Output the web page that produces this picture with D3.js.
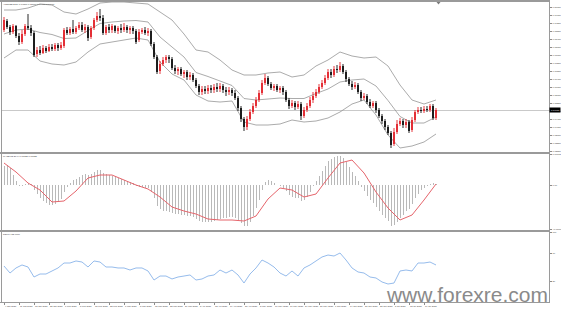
<!DOCTYPE html>
<html>
<head>
<meta charset="utf-8">
<script src="https://cdn.jsdelivr.net/npm/d3@7"></script>
<style>
  html, body { margin: 0; padding: 0; background: #fff; }
  svg { display: block; font-family: "Liberation Sans", Arial, sans-serif; }
  .axis text { fill: #444; font-size: 2.3px; }
  .axis line { stroke: #8c8c8c; shape-rendering: crispEdges; }
  .title { fill: #333; font-size: 2.3px; }
  .watermark { fill: #8a8a8a; font-size: 21px; }
</style>
</head>
<body>
<div id="chart"></div>
<script>
// chart size
const width = 561;
const height = 309;
const plotRight = 549.5;

// ---- data (daily candles) ----
const open = [0.7890,0.7935,0.7905,0.7880,0.7910,0.7860,0.7830,0.7870,0.7910,0.7900,
  0.7875,0.7770,0.7790,0.7775,0.7800,0.7785,0.7805,0.7795,0.7815,0.7800,
  0.7810,0.7890,0.7875,0.7895,0.7880,0.7900,0.7915,0.7890,0.7905,0.7855,
  0.7900,0.7940,0.7960,0.7950,0.7875,0.7905,0.7890,0.7910,0.7885,0.7900,
  0.7890,0.7905,0.7890,0.7900,0.7885,0.7840,0.7880,0.7890,0.7875,0.7885,
  0.7820,0.7755,0.7685,0.7720,0.7740,0.7755,0.7745,0.7700,0.7685,0.7695,
  0.7670,0.7680,0.7655,0.7665,0.7640,0.7610,0.7580,0.7595,0.7585,0.7600,
  0.7590,0.7605,0.7595,0.7610,0.7590,0.7580,0.7590,0.7575,0.7550,0.7500,
  0.7445,0.7405,0.7445,0.7480,0.7510,0.7540,0.7575,0.7625,0.7650,0.7620,
  0.7600,0.7610,0.7590,0.7600,0.7580,0.7540,0.7510,0.7525,0.7505,0.7520,
  0.7460,0.7490,0.7510,0.7540,0.7560,0.7580,0.7605,0.7625,0.7650,0.7680,
  0.7665,0.7695,0.7690,0.7710,0.7680,0.7645,0.7620,0.7605,0.7615,0.7580,
  0.7550,0.7560,0.7530,0.7510,0.7525,0.7490,0.7460,0.7435,0.7405,0.7375,
  0.7320,0.7380,0.7420,0.7435,0.7415,0.7430,0.7390,0.7440,0.7480,0.7490,
  0.7485,0.7495,0.7490,0.7510,0.7450];
const high = [0.7955,0.7945,0.7915,0.7920,0.7915,0.7875,0.7890,0.7920,0.7970,0.7915,
  0.7885,0.7805,0.7810,0.7815,0.7810,0.7820,0.7820,0.7825,0.7825,0.7830,
  0.7900,0.7905,0.7905,0.7940,0.7910,0.7930,0.7930,0.7920,0.7915,0.7910,
  0.7950,0.7980,0.7995,0.7965,0.7915,0.7920,0.7920,0.7915,0.7910,0.7920,
  0.7925,0.7915,0.7910,0.7910,0.7895,0.7895,0.7900,0.7905,0.7900,0.7895,
  0.7830,0.7765,0.7735,0.7755,0.7765,0.7765,0.7755,0.7715,0.7705,0.7705,
  0.7690,0.7690,0.7680,0.7675,0.7650,0.7620,0.7610,0.7610,0.7615,0.7615,
  0.7620,0.7625,0.7625,0.7620,0.7605,0.7605,0.7600,0.7590,0.7560,0.7510,
  0.7455,0.7460,0.7495,0.7525,0.7555,0.7590,0.7640,0.7670,0.7660,0.7630,
  0.7620,0.7620,0.7610,0.7610,0.7590,0.7550,0.7540,0.7535,0.7535,0.7530,
  0.7505,0.7525,0.7555,0.7580,0.7595,0.7620,0.7640,0.7665,0.7695,0.7695,
  0.7710,0.7715,0.7730,0.7720,0.7690,0.7655,0.7635,0.7630,0.7625,0.7590,
  0.7575,0.7570,0.7545,0.7535,0.7535,0.7500,0.7470,0.7445,0.7415,0.7385,
  0.7400,0.7440,0.7450,0.7445,0.7445,0.7440,0.7455,0.7490,0.7505,0.7505,
  0.7510,0.7510,0.7520,0.7520,0.7500];
const low = [0.7880,0.7895,0.7865,0.7870,0.7850,0.7815,0.7820,0.7860,0.7890,0.7860,
  0.7755,0.7755,0.7765,0.7770,0.7775,0.7780,0.7785,0.7785,0.7785,0.7790,
  0.7800,0.7865,0.7865,0.7870,0.7870,0.7890,0.7880,0.7875,0.7835,0.7845,
  0.7890,0.7930,0.7935,0.7865,0.7865,0.7875,0.7875,0.7875,0.7870,0.7875,
  0.7880,0.7875,0.7870,0.7870,0.7820,0.7830,0.7870,0.7865,0.7860,0.7810,
  0.7745,0.7670,0.7670,0.7710,0.7725,0.7725,0.7690,0.7670,0.7665,0.7660,
  0.7650,0.7640,0.7640,0.7630,0.7600,0.7565,0.7565,0.7570,0.7570,0.7575,
  0.7575,0.7580,0.7580,0.7575,0.7560,0.7565,0.7560,0.7540,0.7485,0.7430,
  0.7385,0.7390,0.7435,0.7470,0.7500,0.7530,0.7565,0.7615,0.7610,0.7590,
  0.7585,0.7580,0.7575,0.7565,0.7530,0.7495,0.7500,0.7490,0.7495,0.7440,
  0.7450,0.7480,0.7500,0.7525,0.7550,0.7570,0.7595,0.7615,0.7640,0.7650,
  0.7655,0.7675,0.7680,0.7670,0.7630,0.7610,0.7590,0.7595,0.7570,0.7535,
  0.7540,0.7520,0.7500,0.7500,0.7475,0.7450,0.7420,0.7390,0.7365,0.7300,
  0.7310,0.7370,0.7410,0.7400,0.7400,0.7375,0.7380,0.7430,0.7470,0.7475,
  0.7475,0.7480,0.7480,0.7440,0.7440];
const close = [0.7940,0.7905,0.7880,0.7910,0.7860,0.7830,0.7870,0.7910,0.7900,0.7875,
  0.7765,0.7790,0.7775,0.7800,0.7785,0.7805,0.7795,0.7815,0.7800,0.7815,
  0.7890,0.7875,0.7895,0.7880,0.7900,0.7915,0.7890,0.7905,0.7850,0.7900,
  0.7940,0.7960,0.7950,0.7875,0.7905,0.7890,0.7910,0.7885,0.7900,0.7890,
  0.7905,0.7890,0.7900,0.7885,0.7830,0.7880,0.7890,0.7875,0.7885,0.7820,
  0.7755,0.7680,0.7720,0.7740,0.7755,0.7745,0.7700,0.7685,0.7695,0.7670,
  0.7680,0.7655,0.7665,0.7640,0.7610,0.7580,0.7595,0.7585,0.7600,0.7590,
  0.7605,0.7595,0.7610,0.7590,0.7580,0.7590,0.7575,0.7550,0.7500,0.7445,
  0.7405,0.7445,0.7480,0.7510,0.7540,0.7575,0.7625,0.7650,0.7620,0.7600,
  0.7610,0.7590,0.7600,0.7580,0.7540,0.7510,0.7525,0.7505,0.7520,0.7460,
  0.7490,0.7510,0.7540,0.7560,0.7580,0.7605,0.7625,0.7650,0.7680,0.7665,
  0.7695,0.7690,0.7710,0.7680,0.7645,0.7620,0.7605,0.7615,0.7580,0.7550,
  0.7560,0.7530,0.7510,0.7525,0.7490,0.7460,0.7435,0.7405,0.7375,0.7315,
  0.7380,0.7420,0.7435,0.7415,0.7430,0.7385,0.7440,0.7480,0.7490,0.7485,
  0.7495,0.7490,0.7510,0.7450,0.7490];

// Bollinger bands, read every 4th bar
const bandStep = 4;
const bandUpper = [0.7990,0.7990,0.8000,0.8020,0.8015,0.7980,0.7970,0.7995,0.8025,0.8030,
  0.8030,0.8025,0.8020,0.7980,0.7940,0.7870,0.7790,0.7780,0.7740,0.7690,
  0.7665,0.7665,0.7675,0.7680,0.7655,0.7665,0.7710,0.7740,0.7780,0.7760,
  0.7750,0.7755,0.7710,0.7615,0.7540,0.7520,0.7540];
const bandMiddle = [0.78700,0.78900,0.78950,0.78775,0.78675,0.78475,0.78500,0.78875,0.79225,0.79300,
  0.79350,0.79375,0.79300,0.78550,0.78050,0.77550,0.76775,0.76575,0.76350,0.76125,
  0.75475,0.75400,0.75450,0.75500,0.75475,0.75475,0.75725,0.75950,0.76300,0.76400,
  0.76450,0.76100,0.75375,0.74575,0.74250,0.74250,0.74550];
const bandLower = [0.7750,0.7790,0.7790,0.7735,0.7720,0.7715,0.7730,0.7780,0.7820,0.7830,
  0.7840,0.7850,0.7840,0.7730,0.7670,0.7640,0.7565,0.7535,0.7530,0.7535,
  0.7430,0.7415,0.7415,0.7420,0.7440,0.7430,0.7435,0.7450,0.7480,0.7520,
  0.7540,0.7465,0.7365,0.7300,0.7310,0.7330,0.7370];

// MACD histogram (one per bar) and signal (every 4th bar)
const macdHist = [0.00475,0.005,0.00425,0.0025,0.001,-0.00025,-0.00025,0.00025,0.0005,0.00025,
  -0.00125,-0.00225,-0.00325,-0.004,-0.0045,-0.005,-0.005,-0.00475,-0.00425,-0.0035,
  -0.00175,-0.0005,0.0005,0.00125,0.0015,0.002,0.0025,0.00275,0.0025,0.00275,
  0.00325,0.00375,0.00375,0.003,0.00275,0.0025,0.00225,0.002,0.00175,0.0015,
  0.00125,0.001,0.00075,0.0005,-0.00025,-0.0005,-0.0005,-0.00075,-0.00075,-0.00175,
  -0.00325,-0.00525,-0.006,-0.0065,-0.0065,-0.00675,-0.007,-0.00725,-0.00725,-0.0075,
  -0.0075,-0.00775,-0.00775,-0.008,-0.0085,-0.009,-0.00925,-0.00925,-0.00925,-0.00925,
  -0.009,-0.00875,-0.0085,-0.00825,-0.00825,-0.008,-0.008,-0.00825,-0.00875,-0.0095,
  -0.01025,-0.01025,-0.00925,-0.00775,-0.00575,-0.00375,-0.00125,0.00075,0.00125,0.001,
  0.0005,0,-0.00025,-0.00075,-0.0015,-0.0025,-0.003,-0.00325,-0.00325,-0.004,
  -0.00375,-0.003,-0.00175,-0.00025,0.001,0.00225,0.0035,0.00475,0.006,0.0065,
  0.007,0.00725,0.00725,0.00675,0.00575,0.0045,0.00325,0.00225,0.001,-0.0005,
  -0.0015,-0.00275,-0.00375,-0.0045,-0.0055,-0.0065,-0.0075,-0.00825,-0.009,-0.01025,
  -0.01,-0.00925,-0.00825,-0.0075,-0.0065,-0.006,-0.00475,-0.00325,-0.00225,-0.00125,
  -0.00075,-0.00025,0.00025,0.0005,0.00025];
const signalStep = 4;
const macdSignal = [0.0055,0.00325,0.0005,-0.00125,-0.00425,-0.004,-0.0015,0.00175,0.0025,0.0025,
  0.00125,0,-0.001,-0.003,-0.0055,-0.0065,-0.00725,-0.0085,-0.00875,-0.00875,
  -0.009,-0.00775,-0.0035,-0.00075,-0.00125,-0.003,-0.00225,0.00175,0.0055,0.00625,
  0.003,-0.00175,-0.00575,-0.00875,-0.0075,-0.00375,0.00025];

// RSI(14), read every 2nd bar
const rsiStep = 2;
const rsiValues = [51.4,41.4,48.6,52.9,50.0,35.7,40.0,40.0,44.3,48.6,
  55.7,55.7,58.6,57.1,50.0,58.6,57.1,50.0,50.0,48.6,
  48.6,45.7,48.6,48.6,44.3,31.4,37.1,37.1,32.9,35.7,
  37.1,38.6,31.4,32.9,37.1,38.6,45.7,41.4,45.7,38.6,
  27.1,40.0,48.6,60.0,55.7,50.0,41.4,37.1,44.3,37.1,
  48.6,52.9,58.6,64.3,67.1,65.7,70.0,60.0,48.6,42.9,
  41.4,35.7,34.3,28.6,25.7,27.1,44.3,45.7,44.3,55.7,
  55.7,57.1,52.9];

// axis labels
const dateLabels = ["4 Jan 2021","11 Jan 2021","18 Jan 2021","25 Jan 2021","1 Feb 2021","8 Feb 2021",
  "15 Feb 2021","22 Feb 2021","1 Mar 2021","8 Mar 2021","15 Mar 2021","22 Mar 2021","29 Mar 2021",
  "5 Apr 2021","12 Apr 2021","19 Apr 2021","26 Apr 2021","3 May 2021","10 May 2021","17 May 2021",
  "24 May 2021","31 May 2021","7 Jun 2021","14 Jun 2021","21 Jun 2021","28 Jun 2021","5 Jul 2021",
  "12 Jul 2021","19 Jul 2021"];
const dateStep = 5;
const priceTicks = [0.8005,0.7965,0.7925,0.7885,0.7845,0.7805,0.7765,0.7725,0.7685,0.7645,
  0.7605,0.7565,0.7525,0.7485,0.7445,0.7405,0.7365,0.7325,0.7285];
const macdTicks = [0.00772, 0, -0.01102];
const rsiTicks = [100, 70, 30];

// ---- svg + scales ----
const svg = d3.select('#chart').append('svg').attr('width', width).attr('height', height);

const x = d3.scaleLinear().domain([0, close.length - 1]).range([4, 436]);
const yMain = d3.scaleLinear().domain([0.7280, 0.8030]).range([152, 2]);
const yMacd = d3.scaleLinear().domain([-0.01125, 0.00775]).range([230, 154]);
const yRsi = d3.scaleLinear().domain([0, 100]).range([302, 232]);

const defs = svg.append('defs');
function clip(id, y0, y1) {
  defs.append('clipPath').attr('id', id).append('rect')
    .attr('x', 2).attr('y', y0).attr('width', plotRight - 2).attr('height', y1 - y0);
  return `url(#${id})`;
}
const mainGroup = svg.append('g').attr('clip-path', clip('clipMain', 2, 152));
const macdGroup = svg.append('g').attr('clip-path', clip('clipMacd', 154, 230));
const rsiGroup = svg.append('g').attr('clip-path', clip('clipRsi', 232, 302));

// current price line
const last = close.length - 1;
mainGroup.append('line')
  .attr('x1', 2).attr('x2', plotRight)
  .attr('y1', Math.round(yMain(close[last])) + 0.5).attr('y2', Math.round(yMain(close[last])) + 0.5)
  .attr('stroke', '#c9c9c9').attr('stroke-width', 1);

// bollinger bands
[bandUpper, bandMiddle, bandLower].forEach(band => {
  mainGroup.append('path')
    .datum(band)
    .attr('fill', 'none')
    .attr('stroke', '#959595')
    .attr('stroke-width', 0.8)
    .attr('d', d3.line().x((d, k) => x(k * bandStep)).y(d => yMain(d)));
});

// candles
const bullColor = '#e3242b';
const bearColor = '#111';
const candles = mainGroup.selectAll('g.candle').data(close.map((c, i) => i)).enter()
  .append('g').attr('class', 'candle');
candles.append('line')
  .attr('x1', i => x(i)).attr('x2', i => x(i))
  .attr('y1', i => yMain(high[i])).attr('y2', i => yMain(low[i]))
  .attr('stroke', i => close[i] >= open[i] ? bullColor : bearColor)
  .attr('stroke-width', 0.9);
candles.append('rect')
  .attr('x', i => x(i) - 0.9)
  .attr('width', 1.8)
  .attr('y', i => yMain(Math.max(open[i], close[i])))
  .attr('height', i => Math.max(1, Math.abs(yMain(open[i]) - yMain(close[i]))))
  .attr('fill', i => close[i] >= open[i] ? bullColor : bearColor);

// macd histogram
macdGroup.selectAll('line.hist').data(macdHist).enter()
  .append('line').attr('class', 'hist')
  .attr('x1', (d, i) => x(i)).attr('x2', (d, i) => x(i))
  .attr('y1', yMacd(0)).attr('y2', d => yMacd(d))
  .attr('stroke', '#b9b9b9').attr('stroke-width', 1)
  .attr('shape-rendering', 'crispEdges');
macdGroup.append('path')
  .datum(macdSignal)
  .attr('fill', 'none')
  .attr('stroke', '#e5646b')
  .attr('stroke-width', 1)
  .attr('d', d3.line().x((d, k) => x(k * signalStep)).y(d => yMacd(d)));

// rsi line
rsiGroup.append('path')
  .datum(rsiValues)
  .attr('fill', 'none')
  .attr('stroke', '#96bcec')
  .attr('stroke-width', 1)
  .attr('d', d3.line().x((d, k) => x(k * rsiStep)).y(d => yRsi(d)));

// frame and separators
const frame = svg.append('g').attr('stroke', '#9a9a9a').attr('shape-rendering', 'crispEdges');
frame.append('line').attr('x1', 0).attr('x2', plotRight).attr('y1', 1).attr('y2', 1).attr('stroke-width', 2);
frame.append('line').attr('x1', 0).attr('x2', plotRight).attr('y1', 153).attr('y2', 153).attr('stroke-width', 2);
frame.append('line').attr('x1', 0).attr('x2', plotRight).attr('y1', 231).attr('y2', 231).attr('stroke-width', 2);
frame.append('line').attr('x1', 0).attr('x2', plotRight).attr('y1', 302.5).attr('y2', 302.5);
frame.append('line').attr('x1', 1.5).attr('x2', 1.5).attr('y1', 0).attr('y2', 302.5);
frame.append('line').attr('x1', plotRight).attr('x2', plotRight).attr('y1', 0).attr('y2', 302.5);

// axes
const fmtPrice = d3.format('.5f');
function rightAxis(scale, ticks, fmt) {
  const g = svg.append('g').attr('class', 'axis')
    .attr('transform', `translate(${plotRight},0)`)
    .call(d3.axisRight(scale).tickValues(ticks).tickFormat(fmt).tickSize(2).tickPadding(1));
  g.select('.domain').remove();
  return g;
}
rightAxis(yMain, priceTicks, fmtPrice);
rightAxis(yMacd, macdTicks, d => d === 0 ? '0.00' : fmtPrice(d));
rightAxis(yRsi, rsiTicks, d3.format('d'));

const xAxisGroup = svg.append('g').attr('class', 'axis')
  .attr('transform', 'translate(0,302.5)')
  .call(d3.axisBottom(x)
    .tickValues(dateLabels.map((d, k) => k * dateStep))
    .tickFormat((d, k) => dateLabels[k])
    .tickSize(2).tickSizeOuter(0).tickPadding(0.6));
xAxisGroup.select('.domain').remove();
xAxisGroup.selectAll('text').attr('text-anchor', 'start').attr('x', 0.5);

// current price marker on the price axis
const yLast = yMain(close[last]);
svg.append('rect').attr('x', plotRight).attr('y', yLast - 2.5).attr('width', 11).attr('height', 5).attr('fill', '#000');
svg.append('text').attr('x', plotRight + 1.5).attr('y', yLast + 0.8)
  .attr('fill', '#fff').style('font-size', '2.3px').text(fmtPrice(close[last]));

// shift marker
svg.append('path')
  .attr('d', `M${x(last) + 0.5},2 l4,0 l-2,2.5 z`)
  .attr('fill', '#7a7a7a');

// panel titles
svg.append('text').attr('class', 'title').attr('x', 3).attr('y', 4.5)
  .text(`AUDUSD,Daily  ${fmtPrice(open[last])} ${fmtPrice(high[last])} ${fmtPrice(low[last])} ${fmtPrice(close[last])}`);
svg.append('text').attr('class', 'title').attr('x', 3).attr('y', 157)
  .text(`MACD(12,26,9) ${fmtPrice(macdHist[last])} ${fmtPrice(macdSignal[macdSignal.length - 1])}`);
svg.append('text').attr('class', 'title').attr('x', 3).attr('y', 235)
  .text(`RSI(14) ${d3.format('.4f')(rsiValues[rsiValues.length - 1])}`);

// watermark
svg.append('text').attr('class', 'watermark')
  .attr('x', 548).attr('y', 302)
  .attr('text-anchor', 'end')
  .text('www.forexre.com');
</script>
</body>
</html>
